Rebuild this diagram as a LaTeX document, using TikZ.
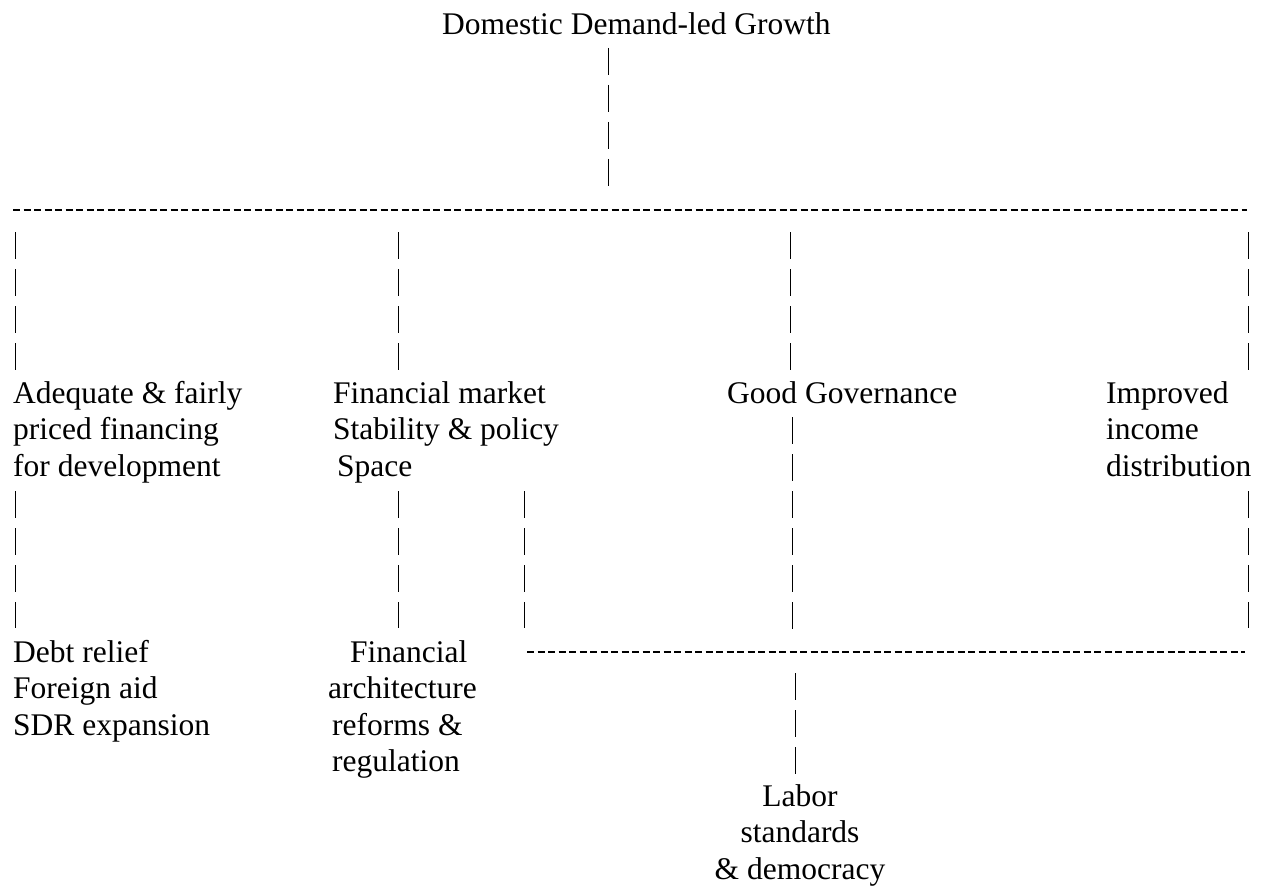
\documentclass[tikz,border=0pt]{standalone}
\usepackage{fontspec}
\setmainfont{Liberation Serif}

\begin{document}
\begin{tikzpicture}[x=1pt, y=-1pt,
        every node/.style={inner sep=0pt, font=\fontsize{31.5}{36.5}\selectfont},
        pipe/.style={line width=1pt, dash pattern=on 27pt off 10pt},
        bus/.style={line width=1.9pt, dash pattern=on 7.3pt off 3.2pt}]
        \path[use as bounding box] (0, 0) rectangle (1262, 888);

        % base of a text block = base line of its last line
        \node[anchor=base west] (ddg) at (442, 35) {Domestic Demand-led Growth};
        \node[anchor=base west, align=left] (fin) at (13, 476) {Adequate \& fairly\\priced financing\\for development};
        \node[anchor=base west, align=left] (fms) at (333, 476) {Financial market\\Stability \& policy\\\hspace{4pt}Space};
        \node[anchor=base west] (gov) at (727, 403) {Good Governance};
        \node[anchor=base west, align=left] (inc) at (1106, 476) {Improved\\income\\distribution};
        \node[anchor=base west, align=left] (debt) at (13, 735) {Debt relief\\Foreign aid\\SDR expansion};
        \node[anchor=base west, align=left] (arch) at (328, 771.5) {\hspace{22pt}Financial\\architecture\\\hspace{4pt}reforms \&\\\hspace{4pt}regulation};
        \node[anchor=base, align=center] (lab) at (800, 879) {Labor\\standards\\\& democracy};

        % the two dashed bars
        \coordinate (busL) at (13, 210);
        \coordinate (busR) at (1247, 210);
        \coordinate (lbusL) at (527, 652);
        \coordinate (lbusR) at (1245, 652);
        \draw[bus] (busL) to (busR);
        \draw[bus] (lbusL) to (lbusR);

        % ends of the vertical bars
        \coordinate (ddg-s) at (608, 48);
        \coordinate (ddg-b) at (608, 187);
        \coordinate (fin-n) at (15, 232);
        \coordinate (fin-b) at (15, 370);
        \coordinate (fms-n) at (398, 232);
        \coordinate (fms-b) at (398, 370);
        \coordinate (gov-n) at (790, 232);
        \coordinate (gov-b) at (790, 370);
        \coordinate (inc-n) at (1248, 232);
        \coordinate (inc-b) at (1248, 370);
        \coordinate (fin-s) at (15, 491);
        \coordinate (debt-n) at (15, 628);
        \coordinate (fms-s) at (398, 491);
        \coordinate (arch-n) at (398, 628);
        \coordinate (fms-s2) at (524, 491);
        \coordinate (fms-l) at (524, 628);
        \coordinate (gov-s) at (792, 417);
        \coordinate (gov-l) at (792, 629);
        \coordinate (inc-s) at (1248, 491);
        \coordinate (inc-l) at (1248, 628);
        \coordinate (lab-t) at (795, 673);
        \coordinate (lab-n) at (795, 775);

        \draw[pipe] (ddg-s) to (ddg-b);
        \draw[pipe] (fin-n) to (fin-b)
            (fms-n) to (fms-b)
            (gov-n) to (gov-b)
            (inc-n) to (inc-b);
        \draw[pipe] (fin-s) to (debt-n)
            (fms-s) to (arch-n)
            (fms-s2) to (fms-l)
            (gov-s) to (gov-l)
            (inc-s) to (inc-l);
        \draw[pipe] (lab-t) to (lab-n);
    \end{tikzpicture}
\end{document}
